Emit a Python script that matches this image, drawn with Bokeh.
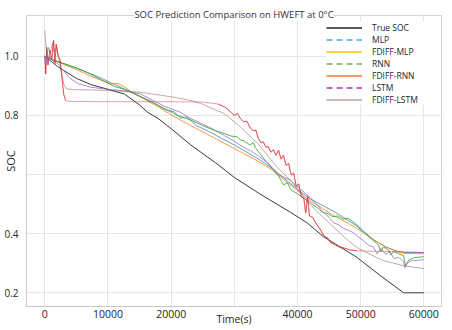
from bokeh.plotting import figure
from bokeh.models import Range1d, FixedTicker, Legend, LegendItem
from bokeh.embed import file_html
from bokeh.resources import INLINE

# ---------------- data ----------------
t_true = [0, 2000, 5000, 7300, 10000, 12600, 15000, 16300, 17900, 20000, 23100, 27000, 30000,
          34000, 38900, 41500, 44100, 49400, 53000, 56800, 60000]
soc_true = [1.0, 0.965, 0.925, 0.904, 0.888, 0.872, 0.835, 0.81, 0.79, 0.755, 0.70, 0.64, 0.59,
            0.535, 0.472, 0.437, 0.39, 0.32, 0.26, 0.2, 0.2]

t_mlp = [0, 500, 1500, 3000, 5000, 7000, 9000, 11000, 13000, 15000, 17000, 19000, 20500, 21500,
         22500, 24000, 26000, 28000, 30000, 32000, 34000, 36000, 38000, 40000, 42000, 44000,
         46000, 48000, 50000, 52000, 54000, 55500, 57000, 58500, 60000]
soc_mlp = [1.0, 0.995, 0.985, 0.975, 0.96, 0.943, 0.925, 0.905, 0.885, 0.865, 0.845, 0.82, 0.812,
           0.79, 0.795, 0.765, 0.745, 0.722, 0.70, 0.675, 0.65, 0.62, 0.585, 0.55, 0.518, 0.495,
           0.472, 0.445, 0.418, 0.38, 0.355, 0.342, 0.336, 0.337, 0.336]

t_fmlp = [0, 1000, 3000, 5000, 7000, 9000, 10500, 11500, 12500, 14000, 16000, 18000, 20000, 22000,
          24000, 26000, 28000, 30000, 32000, 34000, 36000, 38000, 40000, 42000, 44000, 46000,
          48000, 50000, 52000, 54000, 56000, 57000, 58500, 60000]
soc_fmlp = [1.0, 0.99, 0.972, 0.955, 0.935, 0.918, 0.906, 0.908, 0.898, 0.875, 0.852, 0.828, 0.802,
            0.778, 0.755, 0.733, 0.71, 0.688, 0.665, 0.642, 0.615, 0.58, 0.545, 0.512, 0.485,
            0.458, 0.435, 0.41, 0.38, 0.355, 0.338, 0.333, 0.333, 0.332]

t_rnn = [0, 1000, 3000, 5000, 7000, 9000, 11000, 13000, 15000, 17000, 19000, 21000, 23000, 25000,
         27000, 28500, 29500, 30500, 31000, 31500, 32500, 33000, 33300, 34000, 35000, 36000, 37000,
         37800, 38400, 39000, 40000, 41000, 42000, 43000, 44000, 44800, 45600, 46400, 47200,
         48000, 48800, 49400, 50000, 51000, 52000, 52800, 53200, 53600, 54400, 54800, 55200,
         56000, 56800, 57100, 57600, 58500, 60000]
soc_rnn = [1.0, 0.99, 0.975, 0.96, 0.942, 0.92, 0.898, 0.885, 0.865, 0.845, 0.822, 0.80, 0.785,
           0.765, 0.748, 0.738, 0.73, 0.727, 0.716, 0.714, 0.70, 0.708, 0.692, 0.672, 0.645, 0.62,
           0.595, 0.565, 0.572, 0.548, 0.535, 0.52, 0.505, 0.49, 0.472, 0.468, 0.457, 0.46, 0.449,
           0.452, 0.44, 0.43, 0.412, 0.395, 0.377, 0.362, 0.34, 0.355, 0.345, 0.328, 0.34,
           0.332, 0.326, 0.292, 0.31, 0.319, 0.322]

t_frnn = [0, 150, 300, 500, 800, 1100, 1400, 1600, 1800, 2100, 2400, 2700, 3000, 3300, 4000,
          10000, 20000, 25000, 27500, 28500, 29400, 30000, 30500, 31000, 31500, 32000, 32500,
          33000, 33400, 33800, 34200, 34600, 35000, 35400, 35800, 36200, 36600, 37000, 37400,
          37800, 38200, 38600, 39000, 39400, 39800, 40200, 40600, 41000, 41300, 41600, 41900,
          42400, 43000, 43600, 44200, 44800, 45200, 45800, 46500, 47300, 48300, 49400, 53000,
          57000, 60000]
soc_frnn = [1.0, 0.94, 1.03, 0.97, 1.02, 0.99, 1.053, 0.975, 1.04, 1.0, 0.99, 0.93, 0.87, 0.85,
            0.847, 0.846, 0.846, 0.845, 0.838, 0.828, 0.812, 0.80, 0.806, 0.788, 0.778, 0.78, 0.758,
            0.748, 0.75, 0.722, 0.708, 0.71, 0.692, 0.694, 0.675, 0.684, 0.665, 0.682, 0.652,
            0.665, 0.63, 0.638, 0.598, 0.605, 0.56, 0.568, 0.525, 0.52, 0.47, 0.525, 0.46,
            0.455, 0.432, 0.415, 0.392, 0.385, 0.37, 0.365, 0.356, 0.352, 0.345, 0.342, 0.34,
            0.338, 0.336]

t_lstm = [0, 150, 300, 500, 800, 1200, 2000, 3000, 4000, 5300, 7300, 10000, 12000, 14000, 15200,
          17000, 19000, 21500, 23000, 25000, 26500, 28400, 30000, 31500, 32600, 34000, 35500,
          37000, 38900, 40500, 42000, 43000, 44000, 45000, 45700, 46500, 47300, 48200, 48900,
          49600, 50500, 51300, 52000, 52600, 53200, 54000, 54600, 55300, 56000, 56800, 57000,
          57400, 58000, 60000]
soc_lstm = [1.0, 0.97, 1.02, 0.98, 1.0, 0.985, 0.975, 0.95, 0.925, 0.907, 0.895, 0.888, 0.884,
            0.878, 0.872, 0.852, 0.83, 0.81, 0.79, 0.77, 0.755, 0.732, 0.712, 0.692, 0.68, 0.66,
            0.635, 0.60, 0.58, 0.55, 0.522, 0.50, 0.475, 0.455, 0.437, 0.43, 0.418, 0.41, 0.403,
            0.39, 0.375, 0.36, 0.355, 0.332, 0.35, 0.33, 0.34, 0.315, 0.32, 0.305, 0.285,
            0.30, 0.308, 0.312]

t_flstm = [0, 300, 600, 900, 1200, 1500, 1900, 2300, 2700, 3000, 3400, 4500, 7300, 10000, 15200,
           20500, 23100, 24700, 28400, 31000, 33700, 36800, 38900, 41500, 43300, 45200, 47300,
           49400, 51500, 53600, 56700, 60000]
soc_flstm = [1.087, 1.0, 1.03, 1.01, 1.045, 1.015, 1.03, 0.985, 0.94, 0.905, 0.89, 0.887, 0.886,
             0.884, 0.878, 0.861, 0.85, 0.84, 0.806, 0.76, 0.705, 0.624, 0.58, 0.51, 0.47, 0.433,
             0.39, 0.353, 0.33, 0.309, 0.292, 0.282]

legend_labels = ["True SOC", "MLP", "FDIFF-MLP", "RNN", "FDIFF-RNN", "LSTM", "FDIFF-LSTM"]
x_ticks = [0, 10000, 20000, 30000, 40000, 50000, 60000]
x_tick_labels = ["0", "10000", "20000", "", "40000", "50000", "60000"]
y_ticks = [0.2, 0.4, 0.6, 0.8, 1.0]
y_tick_labels = ["0.2", "0.4", "", "0.8", "1.0"]
title_text = "SOC Prediction Comparison on HWEFT at 0\u00b0C"

FONT = "Open Sans"

p = figure(width=452, height=330, output_backend="svg", toolbar_location=None,
           title=title_text,
           x_range=Range1d(-2900, 62800), y_range=Range1d(0.1537, 1.1376),
           min_border_left=25, min_border_right=11, min_border_top=15, min_border_bottom=24)
p.background_fill_color = "white"
p.border_fill_color = "white"
p.outline_line_color = "#d4d4d4"
p.outline_line_width = 1

p.title.align = "center"
p.title.text_font = FONT
p.title.text_font_size = "9.5px"
p.title.text_font_style = "normal"
p.title.text_color = "#333333"
p.title.standoff = -11
p.title.background_fill_color = "white"

for ax in (p.xaxis[0], p.yaxis[0]):
    ax.axis_line_color = "#c8c8c8"
    ax.major_tick_line_color = None
    ax.minor_tick_line_color = None
    ax.major_tick_out = 0
    ax.major_tick_in = 0
    ax.minor_tick_out = 0
    ax.major_label_text_font = FONT
    ax.major_label_text_color = "#262626"
    ax.axis_label_text_font = FONT
    ax.axis_label_text_font_style = "normal"
    ax.axis_label_text_color = "#262626"

p.xaxis.ticker = FixedTicker(ticks=x_ticks)
p.xaxis.major_label_overrides = dict(zip(x_ticks, x_tick_labels))
p.xaxis.major_label_text_font_size = "10.5px"
p.xaxis.major_label_standoff = 3
p.xaxis.axis_label = "Time(s)"
p.xaxis.axis_label_text_font_size = "10.5px"
p.xaxis.axis_label_standoff = -9

p.yaxis.ticker = FixedTicker(ticks=y_ticks)
p.yaxis.major_label_overrides = dict(zip(y_ticks, y_tick_labels))
p.yaxis.major_label_text_font_size = "10px"
p.yaxis.major_label_standoff = 8
p.yaxis.axis_label = "SOC"
p.yaxis.axis_label_text_font_size = "11px"
p.yaxis.axis_label_standoff = -17

p.xgrid.ticker = FixedTicker(ticks=x_ticks)
p.ygrid.ticker = FixedTicker(ticks=y_ticks)
p.grid.grid_line_color = "#e6e6e6"
p.grid.grid_line_width = 1

# plotted lines
p.line(t_true, soc_true, color="#3a3a3a", line_width=1)
p.line(t_mlp, soc_mlp, color="#1f77b4", line_width=1, alpha=0.7)
p.line(t_fmlp, soc_fmlp, color="#ff7f0e", line_width=1, alpha=0.8)
p.line(t_rnn, soc_rnn, color="#2ca02c", line_width=1, alpha=0.8)
p.line(t_frnn, soc_frnn, color="#d62728", line_width=1, alpha=0.45)
i0 = t_frnn.index(3300)
i1 = t_frnn.index(27500)
i2 = t_frnn.index(49400)
p.line(t_frnn[:i0 + 1], soc_frnn[:i0 + 1], color="#d62728", line_width=1, alpha=0.55)
p.line(t_frnn[i1:i2 + 1], soc_frnn[i1:i2 + 1], color="#d62728", line_width=1, alpha=0.6)
p.line(t_lstm, soc_lstm, color="#9467bd", line_width=1, alpha=0.75)
p.line(t_flstm, soc_flstm, color="#8c564b", line_width=1, alpha=0.5)

# legend (its own swatch styles, as in the reference); swatch renderers hold no visible data
legend_styles = [("#222222", "solid"), ("#4aa8e0", "6 4"), ("#ffc000", "solid"),
                 ("#6ab04c", "6 4"), ("#ed7d31", "solid"), ("#b030b0", "6 4"),
                 ("#c0a090", "solid")]
nan = float("nan")
items = []
for lab, (col, dash) in zip(legend_labels, legend_styles):
    r = p.line(x=[nan], y=[nan], color=col, line_dash=dash, line_width=1.5)
    items.append(LegendItem(label=lab, renderers=[r]))
legend = Legend(items=items, location=(300, 201), padding=6, margin=0, spacing=1,
                label_height=11, glyph_height=11, glyph_width=36, label_standoff=10,
                label_width=74, label_text_font=FONT, label_text_font_size="8.5px",
                label_text_color="#262626", background_fill_color="white",
                background_fill_alpha=1.0, border_line_color=None)
p.add_layout(legend)

open("out.html", "w").write(file_html(p, INLINE))
